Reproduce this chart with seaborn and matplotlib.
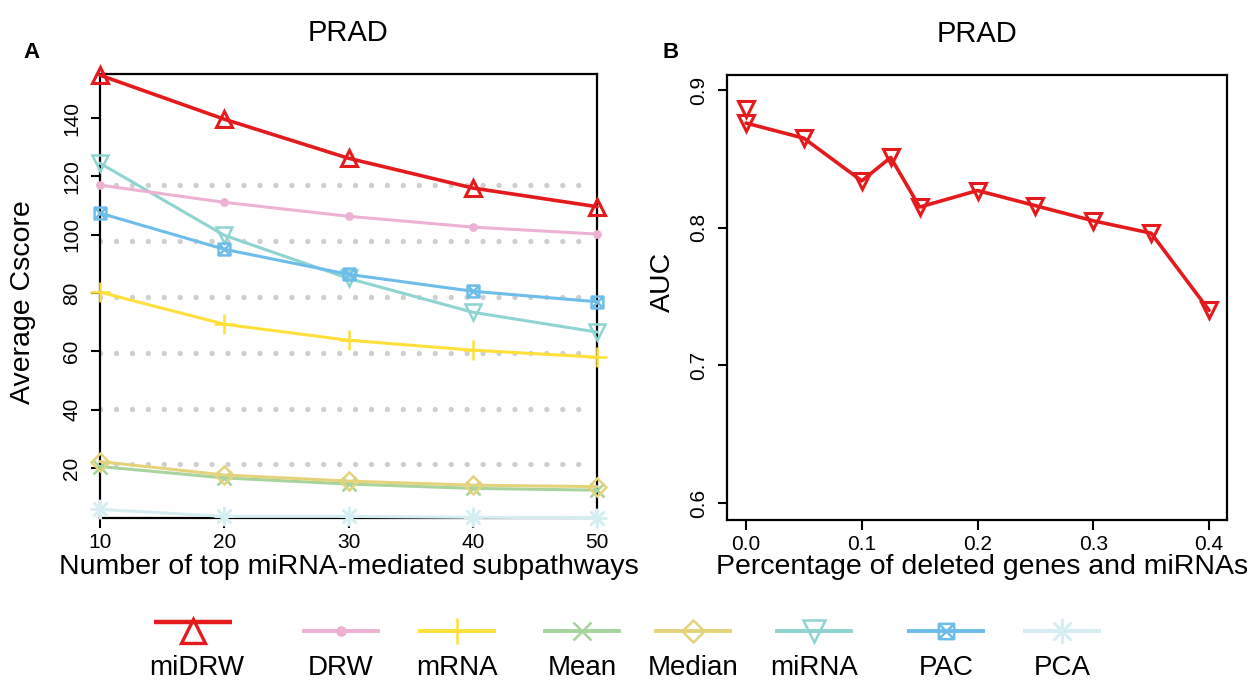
import numpy as np
import pandas as pd
import matplotlib
matplotlib.use('Agg')
import matplotlib.pyplot as plt
from matplotlib.path import Path
import seaborn as sns

# ---- data ----
n_top = [10, 20, 30, 40, 50]
methods = ['miDRW', 'DRW', 'mRNA', 'Mean', 'Median', 'miRNA', 'PAC', 'PCA']
midrw = [154.7, 139.6, 126.2, 116.0, 109.6]
drw = [117.0, 111.1, 106.3, 102.6, 100.2]
mrna = [80.3, 69.3, 63.8, 60.4, 58.0]
mean_ = [20.5, 16.6, 14.5, 13.0, 12.4]
median_ = [22.2, 17.6, 15.5, 14.1, 13.6]
mirna = [124.5, 99.8, 85.0, 73.4, 66.6]
pac = [107.4, 95.0, 86.4, 80.6, 77.0]
pca = [5.8, 3.4, 3.4, 3.1, 2.9]
grid_levels = [21.4, 40.3, 59.6, 78.7, 97.9, 117.1]

pct_deleted = [0.0, 0.05, 0.1, 0.125, 0.15, 0.2, 0.25, 0.3, 0.35, 0.4]
auc = [0.876, 0.865, 0.834, 0.851, 0.815, 0.827, 0.816, 0.805, 0.796, 0.740]
auc_full = 0.886  # extra point at 0.0

# ---- styles ----
sns.set_style('ticks')
plt.rcParams['font.family'] = ['Liberation Sans', 'DejaVu Sans']
for key in ('text.color', 'axes.labelcolor', 'xtick.color', 'ytick.color', 'axes.edgecolor'):
    plt.rcParams[key] = 'black'

# square with a cross (R pch 7)
box_x = Path([(-1, -1), (1, -1), (1, 1), (-1, 1), (-1, -1), (-1, -1), (1, 1), (-1, 1), (1, -1)],
             [Path.MOVETO, Path.LINETO, Path.LINETO, Path.LINETO, Path.CLOSEPOLY,
              Path.MOVETO, Path.LINETO, Path.MOVETO, Path.LINETO])

series = {
    'miDRW': (midrw, '#E41A1C', '^', 12, 2.6),
    'DRW': (drw, '#EDB2D3', 'o', 4.5, 2.2),
    'mRNA': (mrna, '#FFE03A', '+', 14, 2.2),
    'Mean': (mean_, '#A6D49C', 'x', 10, 2.2),
    'Median': (median_, '#E5D37C', 'D', 9, 2.2),
    'miRNA': (mirna, '#8ED4D0', 'v', 12, 2.2),
    'PAC': (pac, '#6DBDEA', box_x, 8.5, 2.2),
    'PCA': (pca, '#D4EEF1', (8, 2, 0), 14, 2.2),
}

fig = plt.figure(figsize=(12.55, 6.84), dpi=100)
W, H = 1255, 684

def px_axes(l, t, r, b):
    return fig.add_axes([l / W, 1 - b / H, (r - l) / W, (b - t) / H])

# ================= Panel A =================
axA = px_axes(100, 74, 597, 518)
for lv in grid_levels:
    axA.plot([10, 49.3], [lv, lv], color='#CFCFCF', linewidth=3.8,
             linestyle=(0, (0.02, 3.0)), dash_capstyle='round', zorder=1)

draw_order = ['PCA', 'Mean', 'Median', 'mRNA', 'miRNA', 'PAC', 'DRW', 'miDRW']
for name in draw_order:
    vals, col, mk, ms, lw = series[name]
    filled = name == 'DRW'
    sns.lineplot(x=n_top, y=vals, ax=axA, color=col, linewidth=lw, marker=mk,
                 markersize=ms, markerfacecolor=col if filled else 'none',
                 markeredgecolor=col, markeredgewidth=2.2 if name == 'miDRW' else 1.8,
                 errorbar=None, clip_on=False, zorder=3)

axA.set_xlim(10, 50)
axA.set_ylim(2.85, 155.1)
axA.set_xticks([10, 20, 30, 40, 50])
axA.set_yticks([20, 40, 60, 80, 100, 120, 140])
axA.set_xlabel('Number of top miRNA-mediated subpathways', fontsize=20.5, va='center')
axA.xaxis.set_label_coords(0.5, -0.110)
axA.set_ylabel('Average Cscore', fontsize=20.5, va='center')
axA.yaxis.set_label_coords(-0.155, 0.486)
axA.set_title('PRAD', fontsize=21, pad=24)

# ================= Panel B =================
axB = px_axes(727, 75, 1227, 520)
sns.lineplot(x=pct_deleted, y=auc, ax=axB, color='#E41A1C', linewidth=2.6, marker='v',
             markersize=12, markerfacecolor='none', markeredgecolor='#E41A1C',
             markeredgewidth=2.2, errorbar=None, zorder=3)
sns.lineplot(x=[0.0], y=[auc_full], ax=axB, color='#E41A1C', marker='v',
             markersize=12, markerfacecolor='none', markeredgecolor='#E41A1C',
             markeredgewidth=2.2, errorbar=None, zorder=3)
axB.set_xlim(-0.0164, 0.4155)
axB.set_ylim(0.5877, 0.9109)
axB.set_xticks([0.0, 0.1, 0.2, 0.3, 0.4])
axB.set_xticklabels(['0.0', '0.1', '0.2', '0.3', '0.4'])
axB.set_yticks([0.6, 0.7, 0.8, 0.9])
axB.set_yticklabels(['0.6', '0.7', '0.8', '0.9'])
axB.set_xlabel('Percentage of deleted genes and miRNAs', fontsize=20.5, va='center')
axB.xaxis.set_label_coords(0.51, -0.106)
axB.set_ylabel('AUC', fontsize=20.5, va='center')
axB.yaxis.set_label_coords(-0.128, 0.535)
axB.set_title('PRAD', fontsize=21, pad=24)

for ax in (axA, axB):
    for sp in ax.spines.values():
        sp.set_visible(True)
        sp.set_linewidth(1.6)
        sp.set_color('black')
    ax.tick_params(axis='x', length=7, width=1.5, pad=4, labelsize=15)
    ax.tick_params(axis='y', length=6.5, width=1.5, pad=7, labelsize=15, labelrotation=90)
    for lab in ax.get_yticklabels():
        lab.set_va('center')
    ax.grid(False)

fig.text(31 / W, 1 - 52 / H, 'A', fontsize=16, fontweight='bold', ha='center', va='center')
fig.text(671 / W, 1 - 52 / H, 'B', fontsize=16, fontweight='bold', ha='center', va='center')

# ================= Legend (handles above labels) =================
axL = fig.add_axes([0, 0, 1, 100 / H])
axL.set_xlim(0, W)
axL.set_ylim(H, H - 100)
axL.axis('off')
leg_x = [193, 341, 457, 582, 693, 814, 946, 1062]
for name, cx in zip(methods, leg_x):
    vals, col, mk, ms, lw = series[name]
    line_y = 622 if name == 'miDRW' else 631
    axL.plot([cx - 39, cx + 39], [line_y, line_y], color=col, linewidth=lw + 0.6,
             solid_capstyle='butt')
    filled = name == 'DRW'
    axL.plot([cx], [631], linestyle='none', marker=mk,
             markersize=ms * (1.45 if name == 'miDRW' else 1.3),
             markerfacecolor=col if filled else 'none', markeredgecolor=col,
             markeredgewidth=2.4 if name == 'miDRW' else 1.8)
    axL.text(cx + (4 if name == 'miDRW' else 0), 668, name, fontsize=20,
             ha='center', va='center')

fig.savefig('out.png', dpi=100)
